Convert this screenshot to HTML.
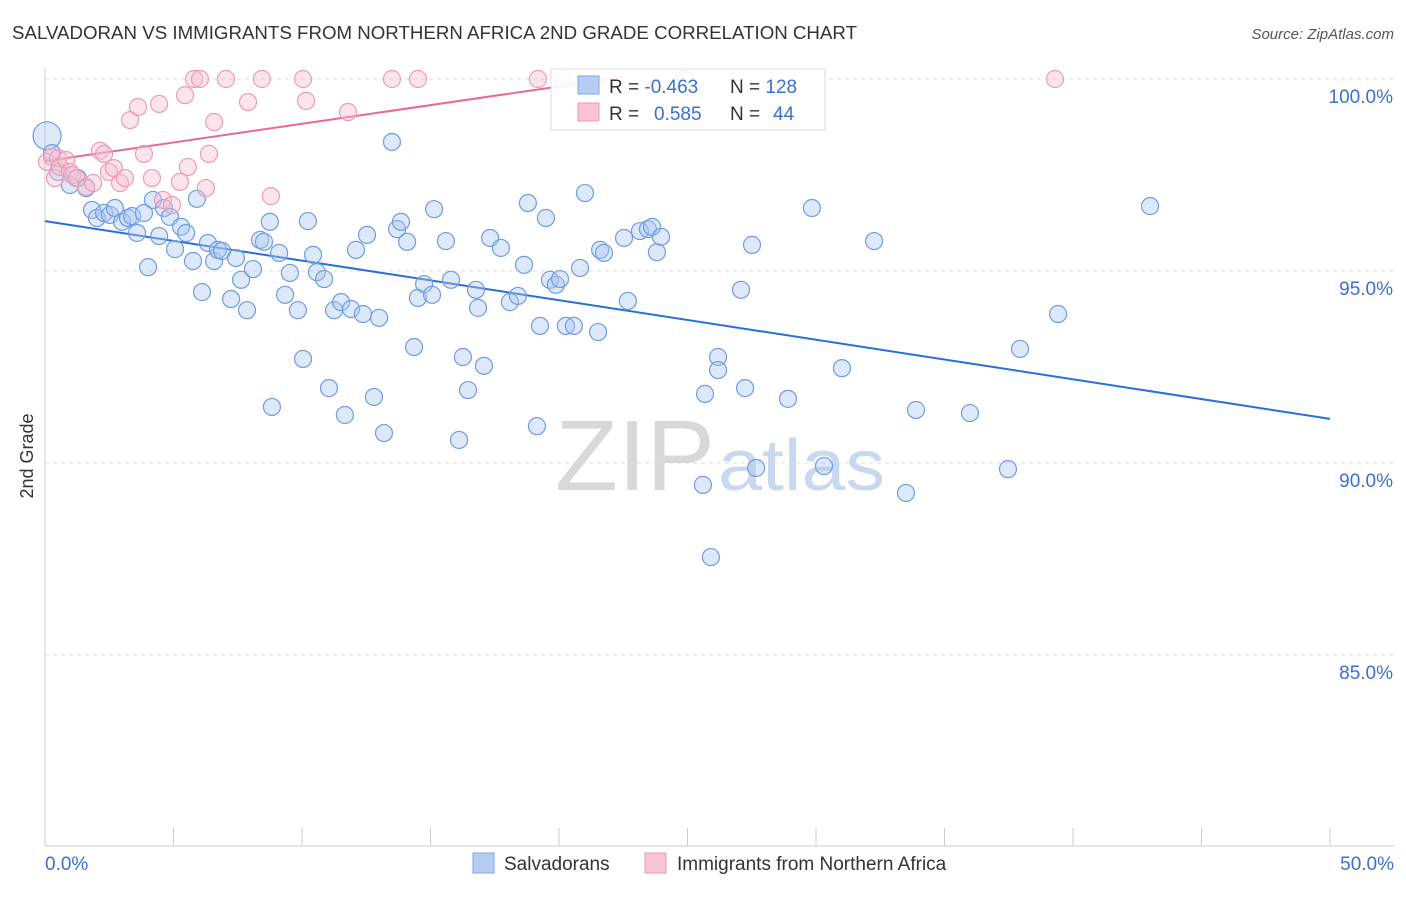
<!DOCTYPE html>
<html><head><meta charset="utf-8"><style>
body{margin:0;background:#fff;font-family:"Liberation Sans",sans-serif;}
svg text{font-family:"Liberation Sans",sans-serif;}
</style></head><body>
<svg id="chart" width="1406" height="892" xmlns="http://www.w3.org/2000/svg">
<text x="12" y="39" font-size="18" fill="#333" textLength="845" lengthAdjust="spacingAndGlyphs">SALVADORAN VS IMMIGRANTS FROM NORTHERN AFRICA 2ND GRADE CORRELATION CHART</text>
<text x="1394" y="39" font-size="15" fill="#555" text-anchor="end" font-style="italic">Source: ZipAtlas.com</text>
<text x="33" y="456" font-size="18" fill="#333" text-anchor="middle" transform="rotate(-90 33 456)">2nd Grade</text>
<text x="555" y="490" font-size="100" fill="#d8d8d8" textLength="160" lengthAdjust="spacingAndGlyphs" font-family="Liberation Serif">ZIP</text>
<text x="718" y="490" font-size="72" fill="#c8d8ee" textLength="167" lengthAdjust="spacingAndGlyphs">atlas</text>
<g id="grid"></g><g id="trend"></g><g id="pts"></g>
<g>
<rect x="551" y="69" width="274" height="61" fill="#fff" fill-opacity="0.9" stroke="#ddd"/>
<rect x="578" y="76" width="21" height="18" fill="#b5cdf2" stroke="#7fa6e4"/>
<rect x="578" y="103" width="21" height="18" fill="#f8c3d4" stroke="#ee9ab6"/>
<text x="609" y="93" font-size="19" fill="#333">R = <tspan fill="#3b6fd0">-0.463</tspan></text>
<text x="730" y="93" font-size="19" fill="#333">N = <tspan fill="#3b6fd0">128</tspan></text>
<text x="609" y="120" font-size="19" fill="#333">R = <tspan fill="#3b6fd0" x="654">0.585</tspan></text>
<text x="730" y="120" font-size="19" fill="#333">N = <tspan fill="#3b6fd0" x="773">44</tspan></text>
</g>
<g>
<rect x="473" y="853" width="21" height="20" fill="#b5cdf2" stroke="#7fa6e4"/>
<text x="504" y="870" font-size="19" fill="#333">Salvadorans</text>
<rect x="645" y="853" width="21" height="20" fill="#f8c3d4" stroke="#ee9ab6"/>
<text x="677" y="870" font-size="19" fill="#333">Immigrants from Northern Africa</text>
</g>
</svg>
<script>
const yTicks=[100,95,90,85];
const yTickLabels=["100.0%","95.0%","90.0%","85.0%"];
const xEndLabels=["0.0%","50.0%"];
const blueX=[0.08,0.27,0.51,0.97,1.28,1.60,1.83,2.02,2.30,2.53,2.72,3.00,3.23,3.39,3.58,3.85,4.01,4.20,4.44,4.63,4.86,5.06,5.29,5.49,5.76,5.91,6.11,6.34,6.58,6.73,6.89,7.24,7.43,7.63,7.86,8.09,8.37,8.52,8.75,8.83,9.11,9.34,9.53,9.84,10.04,10.23,10.43,10.58,10.86,11.05,11.25,11.52,11.67,11.91,12.10,12.37,12.53,12.80,13.00,13.19,13.50,13.70,13.85,14.09,14.36,14.51,14.75,15.06,15.14,15.60,15.80,16.11,16.26,16.46,16.77,16.85,17.08,17.32,17.74,18.09,18.40,18.64,18.79,19.14,19.26,19.49,19.65,19.88,20.04,20.27,20.58,20.82,21.01,21.52,21.60,21.75,22.53,22.68,23.15,23.46,23.62,23.81,23.97,24.90,25.60,25.68,25.91,26.19,26.19,27.08,27.24,27.51,27.67,28.91,29.84,30.31,31.01,32.26,33.50,33.89,35.99,37.47,37.94,39.42,43.00];
const blueY=[98.52,98.07,97.58,97.24,97.42,97.16,96.59,96.38,96.51,96.46,96.64,96.28,96.38,96.43,95.99,96.51,95.10,96.85,95.91,96.64,96.41,95.57,96.15,95.99,95.26,96.88,94.45,95.73,95.26,95.55,95.52,94.27,95.34,94.77,93.98,95.05,95.81,95.76,96.28,91.46,95.47,94.38,94.95,93.98,92.71,96.30,95.42,94.97,94.79,91.95,93.98,94.19,91.25,94.01,95.55,93.88,95.94,91.72,93.78,90.78,98.36,96.09,96.28,95.76,93.02,94.30,94.66,94.38,96.61,95.78,94.77,90.60,92.76,91.90,94.51,94.04,92.53,95.86,95.60,94.19,94.35,95.16,96.77,90.96,93.57,96.38,94.77,94.64,94.79,93.57,93.57,95.08,97.03,93.41,95.55,95.47,95.86,94.22,96.04,96.09,96.15,95.49,95.89,100.0,89.43,91.80,87.55,92.76,92.42,94.51,91.95,95.68,89.87,91.67,96.64,89.92,92.47,95.78,89.22,91.38,91.30,89.84,92.97,93.88,96.69];
const pinkX=[0.08,0.27,0.39,0.51,0.58,0.82,0.97,1.05,1.21,1.60,1.87,2.14,2.30,2.49,2.68,2.92,3.11,3.31,3.62,3.85,4.16,4.44,4.59,4.94,5.25,5.45,5.56,5.80,6.03,6.26,6.38,6.58,7.04,7.90,8.44,8.79,10.04,10.16,11.79,13.50,14.51,19.18,20.16,39.30];
const pinkY=[97.84,97.97,97.42,97.94,97.71,97.89,97.58,97.50,97.42,97.19,97.29,98.13,98.05,97.58,97.68,97.29,97.42,98.93,99.27,98.05,97.42,99.35,96.85,96.72,97.32,99.58,97.71,100,100,97.16,98.05,98.88,100,99.40,100,96.95,100,99.43,99.14,100,100,100,100,100];
const blueTrend=[96.30,91.15];
const pinkTrend=[97.86,100.05,22.5];
const NS="http://www.w3.org/2000/svg";
const X=v=>45+v*1285/50, Y=v=>79+(100-v)*38.4;
function mk(t,a,p){const e=document.createElementNS(NS,t);for(const k in a)e.setAttribute(k,a[k]);p.appendChild(e);return e;}
const grid=document.getElementById('grid');
yTicks.forEach((t,i)=>{
 const l=mk('line',{x1:45,x2:1394,y1:Y(t),y2:Y(t),stroke:'#ddd','stroke-dasharray':'4 4'},grid);
 
 
 const tx=mk('text',{x:1393,y:Y(t)+24,'font-size':19,fill:'#3b6fd0','text-anchor':'end'},grid);tx.textContent=yTickLabels[i];
 
 
});
const ax=mk('line',{x1:45,x2:45,y1:68,y2:846,stroke:'#ccc'},grid);


const bx=mk('line',{x1:45,x2:1394,y1:846,y2:846,stroke:'#ccc'},grid);


for(let i=0;i<=10;i++){const t=mk('line',{x1:X(i*5),x2:X(i*5),y1:828,y2:846,stroke:'#ccc'},grid);
 
 }
[[0,'start',45],[50,'end',1394]].forEach((d,i)=>{const t=mk('text',{x:d[2],y:870,'font-size':19,fill:'#3b6fd0','text-anchor':d[1]},grid);t.textContent=xEndLabels[i];
 
 });
const tr=document.getElementById('trend');
const bl=mk('line',{x1:X(0),y1:Y(blueTrend[0]),x2:X(50),y2:Y(blueTrend[1]),stroke:'#2a6fd6','stroke-width':2},tr);


const pl=mk('line',{x1:X(0),y1:Y(pinkTrend[0]),x2:X(pinkTrend[2]),y2:Y(pinkTrend[1]),stroke:'#e8689a','stroke-width':2},tr);


const pts=document.getElementById('pts');
blueX.forEach((x,i)=>{const c=mk('circle',{cx:X(x),cy:Y(blueY[i]),r:i===0?14:8.5,fill:'#a9c6f0','fill-opacity':0.4,stroke:'#6f9de2','stroke-width':1.2},pts);
 
 });
pinkX.forEach((x,i)=>{const c=mk('circle',{cx:X(x),cy:Y(pinkY[i]),r:8.5,fill:'#f6bfd1','fill-opacity':0.4,stroke:'#ee9ab6','stroke-width':1.2},pts);
 
 });
</script>
</body></html>
